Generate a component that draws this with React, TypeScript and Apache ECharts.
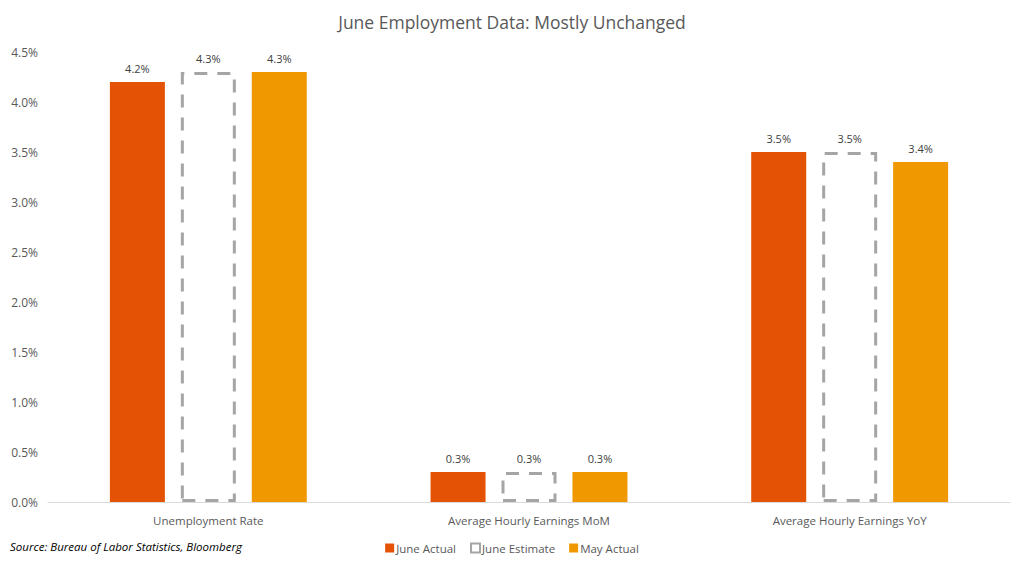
import React, { useEffect, useRef } from "react";
import * as echarts from "echarts";

const categories = ["Unemployment Rate", "Average Hourly Earnings MoM", "Average Hourly Earnings YoY"];
const juneActual = [4.2, 0.3, 3.5];
const juneEstimate = [4.3, 0.3, 3.5];
const mayActual = [4.3, 0.3, 3.4];
const yTicks = { min: 0, max: 4.5, interval: 0.5 };

const FONT = "'Open Sans', 'Liberation Sans', sans-serif";
const TEXT = "#595959";

export default function App() {
  const ref = useRef<HTMLDivElement>(null);

  useEffect(() => {
    if (!ref.current) return;
    const chart = echarts.init(ref.current, null, { renderer: "svg" });
    const label = {
      show: true,
      position: "top" as const,
      distance: 8,
      color: "#404040",
      fontSize: 11,
      fontFamily: FONT,
      formatter: (p: any) => p.value.toFixed(1) + "%",
    };
    chart.setOption({
      animation: false,
      textStyle: { fontFamily: FONT },
      title: {
        text: "June Employment Data: Mostly Unchanged",
        left: "center",
        top: 8,
        textStyle: { fontSize: 17.5, fontWeight: "normal", color: TEXT, fontFamily: FONT },
      },
      grid: { left: 48, right: 14, top: 52, bottom: 66, containLabel: false },
      legend: {
        top: 537,
        left: "center",
        itemWidth: 9,
        itemHeight: 9,
        itemGap: 14,
        icon: "rect",
        textStyle: { color: TEXT, fontSize: 11.5, fontFamily: FONT, padding: [0, 0, 0, -3] },
        data: ["June Actual", "June Estimate", "May Actual"],
      },
      graphic: [
        {
          type: "text",
          left: 10,
          top: 540,
          style: {
            text: "Source: Bureau of Labor Statistics, Bloomberg",
            fontStyle: "italic",
            fontSize: 11.5,
            fill: "#000",
            fontFamily: FONT,
          },
        },
      ],
      xAxis: {
        type: "category",
        data: categories,
        axisTick: { show: false },
        axisLine: { lineStyle: { color: "#D9D9D9" } },
        axisLabel: { color: TEXT, fontSize: 11.5, margin: 12, fontFamily: FONT },
      },
      yAxis: {
        type: "value",
        min: yTicks.min,
        max: yTicks.max,
        interval: yTicks.interval,
        splitLine: { show: false },
        axisLine: { show: false },
        axisTick: { show: false },
        axisLabel: {
          color: TEXT,
          fontSize: 12,
          margin: 10,
          fontFamily: FONT,
          formatter: (v: number) => v.toFixed(1) + "%",
        },
      },
      series: [
        {
          name: "June Actual",
          type: "bar",
          data: juneActual,
          barWidth: 55,
          barGap: "29%",
          itemStyle: { color: "#E35205" },
          label,
        },
        {
          name: "June Estimate",
          type: "bar",
          data: juneEstimate,
          barWidth: 55,
          itemStyle: {
            color: "rgba(255,255,255,0)",
            borderColor: "#A5A5A5",
            borderWidth: 3,
            borderType: [13, 10],
          },
          label,
        },
        {
          name: "May Actual",
          type: "bar",
          data: mayActual,
          barWidth: 55,
          itemStyle: { color: "#F09800" },
          label,
        },
      ],
    });
    return () => chart.dispose();
  }, []);

  return (
    <div
      ref={ref}
      style={{ position: "fixed", left: 0, top: 0, width: 1024, height: 568, background: "#fff" }}
    />
  );
}
